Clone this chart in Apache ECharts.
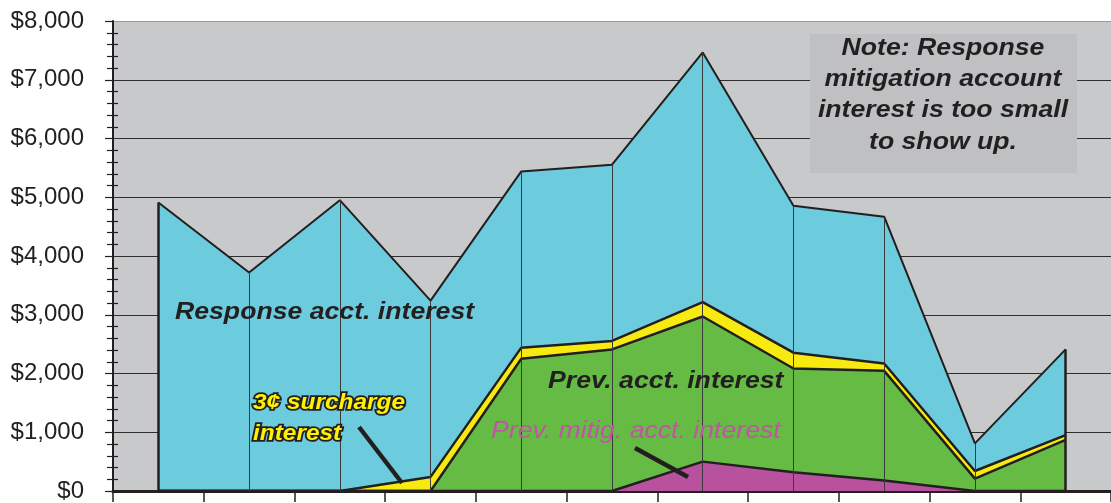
<!DOCTYPE html>
<html>
<head>
<meta charset="utf-8">
<script src="https://cdn.jsdelivr.net/npm/echarts@6/dist/echarts.min.js"></script>
<style>
html,body{margin:0;padding:0;background:#ffffff;}
#c{width:1111px;height:503px;}
</style>
</head>
<body>
<div id="c"></div>
<script>
// ---- data ----
const categories = ['1','2','3','4','5','6','7','8','9','10','11'];
const prevMitigInterest = [0, 0, 0, 0, 0, 0, 500, 320, 180, 0, 0];
const prevInterest      = [0, 0, 0, 0, 2250, 2410, 2470, 1765, 1865, 210, 870];
const surchargeInterest = [0, 0, 0, 240, 190, 145, 245, 270, 125, 130, 80];
const responseInterest  = [4910, 3720, 4950, 3000, 3000, 3000, 4250, 2500, 2500, 470, 1460];
const yMin = 0, yMax = 8000, yStep = 1000;

// ---- derived ----
const totals = categories.map((_, i) =>
  prevMitigInterest[i] + prevInterest[i] + surchargeInterest[i] + responseInterest[i]);
const dropLines = totals.map((t, i) => {
  const edge = (i === 0 || i === categories.length - 1);
  return [
    {coord: [i, 0], lineStyle: {width: edge ? 2.5 : 1, color: edge ? '#231f20' : '#3a3a3a'}},
    {coord: [i, t]}
  ];
});

const FONT = 'Liberation Sans, Arial, Helvetica, sans-serif';
const INK = '#231f20';
const SX = 1.11;

function areaSeries(name, data, color, lw) {
  return {
    name: name, type: 'line', stack: 'total', data: data,
    symbol: 'none', smooth: false,
    lineStyle: {color: INK, width: lw},
    areaStyle: {color: color, opacity: 1},
    emphasis: {disabled: true},
    silent: true
  };
}

const chart = echarts.init(document.getElementById('c'), null, {renderer: 'canvas'});
const resp = areaSeries('Response acct. interest', responseInterest, '#6ccbdc', 2);
resp.markLine = {
  silent: true, symbol: ['none', 'none'], label: {show: false},
  lineStyle: {type: 'solid', color: '#3a3a3a', width: 1},
  emphasis: {disabled: true},
  data: dropLines
};

chart.setOption({
  animation: false,
  backgroundColor: '#ffffff',
  grid: {left: 113, top: 21, width: 1001, bottom: 10, show: true,
         backgroundColor: '#c8c9cb', borderWidth: 0, containLabel: false},
  xAxis: {
    type: 'category', data: categories, boundaryGap: true,
    axisLine: {show: true, onZero: false, lineStyle: {color: INK, width: 3}},
    axisTick: {show: true, interval: 0, length: 11, lineStyle: {color: INK, width: 1.5}},
    axisLabel: {show: false},
    splitLine: {show: false}
  },
  yAxis: [{
    type: 'value', min: yMin, max: yMax, interval: yStep,
    axisLine: {show: true, lineStyle: {color: INK, width: 2}},
    axisTick: {show: true, length: 8, lineStyle: {color: INK, width: 1.2}},
    minorTick: {show: true, splitNumber: 5, length: 6, lineStyle: {color: INK, width: 1.2}},
    axisLabel: {
      fontSize: 24, color: INK, fontFamily: FONT, margin: 29,
      formatter: v => '$' + v.toLocaleString('en-US')
    },
    splitLine: {show: true, lineStyle: {
      color: ['#2e2e2e','#2e2e2e','#2e2e2e','#2e2e2e','#2e2e2e','#2e2e2e','#2e2e2e','#2e2e2e','#9a9a9c'],
      width: 1.2}}
  }, {
    type: 'value', min: yMin, max: yMax, interval: yStep, position: 'left',
    axisLine: {show: false},
    axisTick: {show: false, inside: true},
    minorTick: {show: true, splitNumber: 5, length: 5, lineStyle: {color: INK, width: 1.2}},
    axisLabel: {show: false},
    splitLine: {show: false}
  }],
  series: [
    areaSeries('Prev. mitig. acct. interest', prevMitigInterest, '#b8529e', 2.5),
    areaSeries('Prev. acct. interest', prevInterest, '#66bb44', 2.5),
    areaSeries('3¢ surcharge interest', surchargeInterest, '#f7ea10', 2.5),
    resp
  ],
  graphic: [
    {type: 'rect', z: 50, shape: {x: 810, y: 34, width: 267, height: 139},
     style: {fill: '#bfc0c2'}},
    {type: 'text', z: 51, x: 943, y: 95, scaleX: SX,
     style: {text: 'Note: Response\nmitigation account\ninterest is too small\nto show up.',
             font: 'italic bold 24px ' + FONT, fill: INK, align: 'center',
             verticalAlign: 'middle', lineHeight: 31.3}},
    {type: 'text', z: 51, x: 175, y: 312.5, scaleX: SX,
     style: {text: 'Response acct. interest', font: 'italic bold 24px ' + FONT,
             fill: INK, align: 'left', verticalAlign: 'middle'}},
    {type: 'text', z: 51, x: 548, y: 381.5, scaleX: SX,
     style: {text: 'Prev. acct. interest', font: 'italic bold 24px ' + FONT,
             fill: INK, align: 'left', verticalAlign: 'middle'}},
    {type: 'text', z: 51, x: 491, y: 431.5, scaleX: SX,
     style: {text: 'Prev. mitig. acct. interest', font: 'italic 24px ' + FONT,
             fill: '#c055a5', align: 'left', verticalAlign: 'middle'}},
    {type: 'text', z: 51, x: 253, y: 418, scaleX: SX,
     style: {text: '3¢ surcharge\ninterest', font: 'italic bold 22px ' + FONT,
             fill: '#fff200', stroke: INK, lineWidth: 3.5, align: 'left',
             verticalAlign: 'middle', lineHeight: 31}},
    {type: 'line', z: 51, shape: {x1: 359, y1: 427, x2: 402, y2: 483},
     style: {stroke: INK, lineWidth: 4.5}},
    {type: 'line', z: 51, shape: {x1: 635, y1: 448, x2: 688, y2: 477},
     style: {stroke: INK, lineWidth: 4.5}}
  ]
});
</script>
</body>
</html>
